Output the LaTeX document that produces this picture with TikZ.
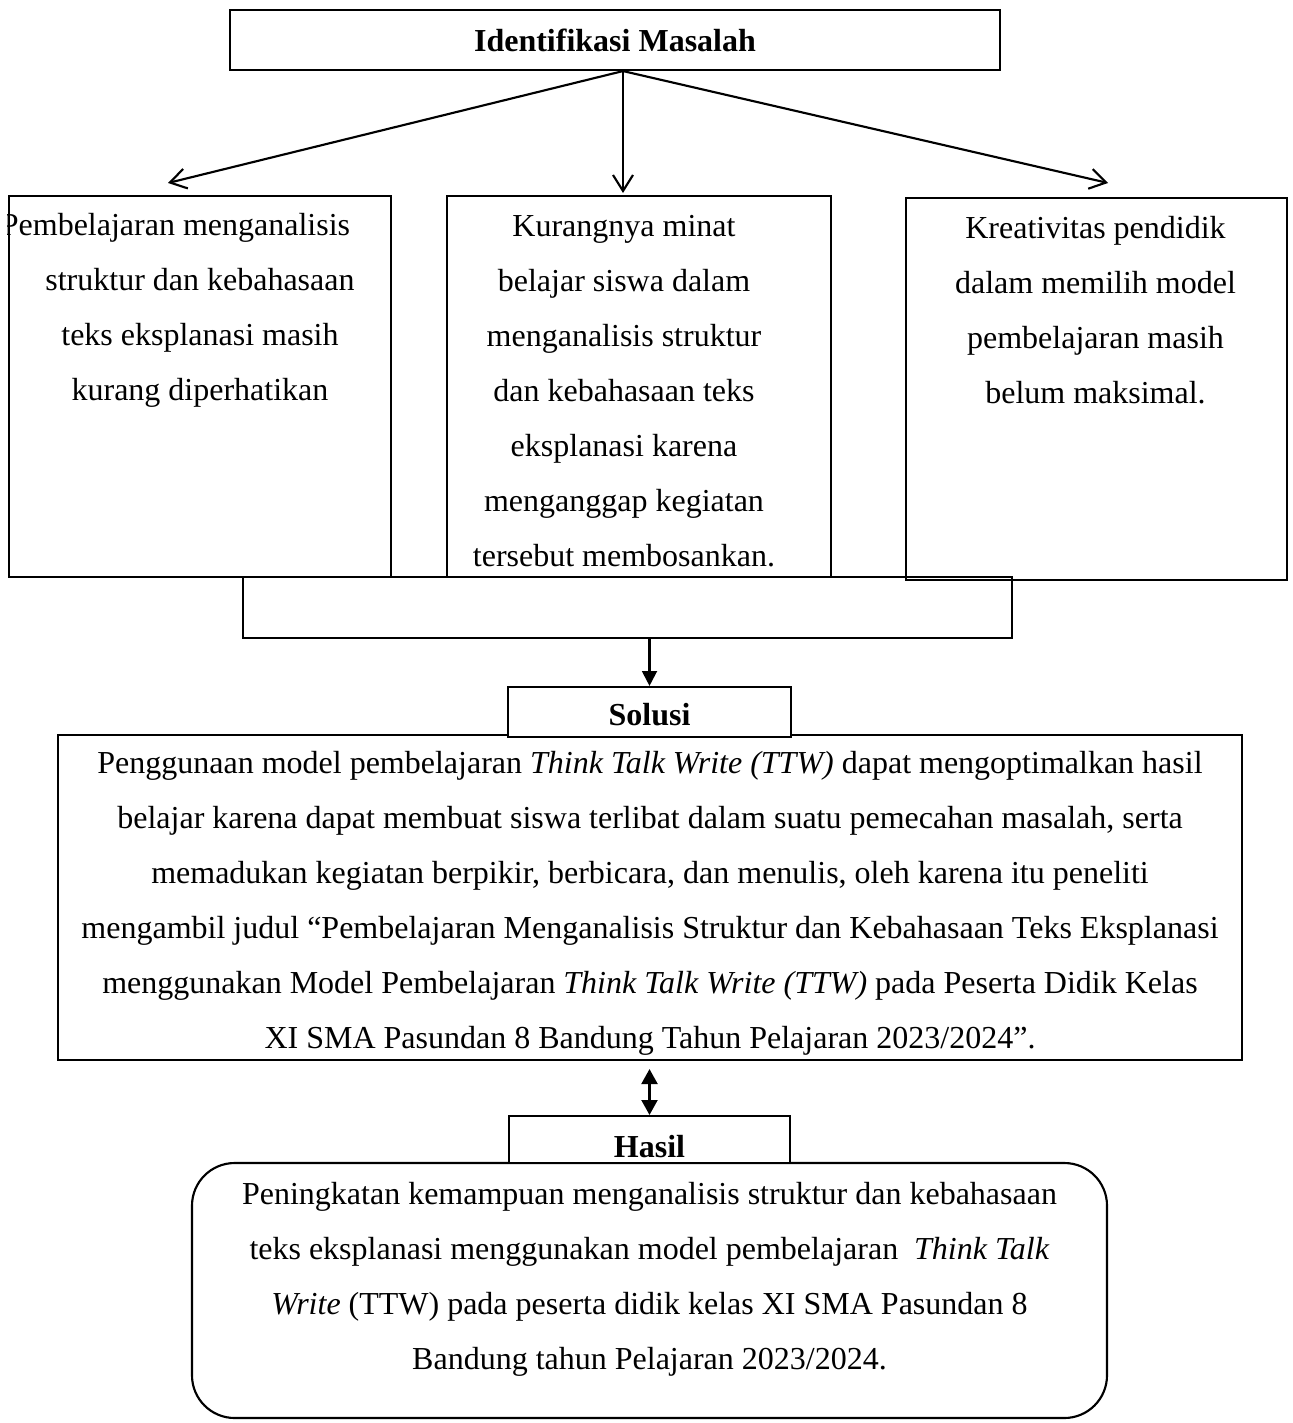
\documentclass[tikz,border=0pt]{standalone}
\usepackage{fontspec}
\setmainfont{Liberation Serif}
\usetikzlibrary{arrows.meta, positioning}

\begin{document}
\begin{tikzpicture}[x=0.375pt, y=-0.375pt,
    font=\fontsize{12}{20.6}\selectfont,
    kotak/.style={draw, line width=0.8pt, inner sep=0pt},
    ukuran/.style 2 args={minimum width=#1*0.375pt, minimum height=#2*0.375pt},
    teks/.style={align=center, inner sep=0pt, anchor=north},
    panah/.style={line width=0.8pt, -{Straight Barb[length=6pt, width=7.5pt]}},
    panahisi/.style={line width=0.8pt, -{Triangle[length=5.6pt, width=5.6pt]}},
    panahganda/.style={line width=0.8pt, {Triangle[length=5.6pt, width=6pt]}-{Triangle[length=5.6pt, width=6pt]}}]
    \useasboundingbox (0,0) rectangle (1292,1423);

    % Identifikasi masalah
    \node[kotak, ukuran={770}{60}, text height=15.75pt, text depth=6.75pt] (idm) at (615,40) {\textbf{Identifikasi Masalah}};

    % tiga masalah
    \node[kotak, ukuran={382}{381}] (kiri) at (200,386.5) {};
    \node[kotak, ukuran={384}{381}] (tengah) at (639,386.5) {};
    \node[kotak, ukuran={381}{382}] (kanan) at (1096.5,389) {};

    \begin{scope}
        \clip (kiri.south west) rectangle (kiri.north east);
        \node[teks] (tkiri) at (200,213) {Pembelajaran menganalisis\hbox to 18.4pt{}\\ struktur dan kebahasaan\\ teks eksplanasi masih\\ kurang diperhatikan};
    \end{scope}
    \node[teks] (ttengah) at (624,215) {Kurangnya minat\\ belajar siswa dalam\\ menganalisis struktur\\ dan kebahasaan teks\\ eksplanasi karena\\ menganggap kegiatan\\ tersebut membosankan.};
    \node[teks] (tkanan) at (1095.5,216) {Kreativitas pendidik\\ dalam memilih model\\ pembelajaran masih\\ belum maksimal.};

    \coordinate (ujung1) at (168,183);
    \coordinate (ujung2) at (623,193);
    \coordinate (ujung3) at (1108,183);
    \foreach \t in {ujung1, ujung2, ujung3}
        \draw[panah] ([xshift=3pt]idm.south) -- (\t);

    % penggabung
    \node[kotak, ukuran={769}{61}] (gabung) at (627.5,607.5) {};

    % Solusi
    \node[kotak, ukuran={1184}{325}] (isi) at (650,897.5) {};
    \node[kotak, fill=white, ukuran={283}{50}, text height=14.25pt, text depth=4.5pt] (solusi) at (649.5,712) {\textbf{Solusi}};
    \begin{scope}
        \clip (isi.south west) rectangle (isi.north east);
        \node[teks] (tisi) at (650,751) {Penggunaan model pembelajaran \textit{Think Talk Write (TTW)} dapat mengoptimalkan hasil\\
            belajar karena dapat membuat siswa terlibat dalam suatu pemecahan masalah, serta\\
            memadukan kegiatan berpikir, berbicara, dan menulis, oleh karena itu peneliti\\
            mengambil judul “Pembelajaran Menganalisis Struktur dan Kebahasaan Teks Eksplanasi\\
            menggunakan Model Pembelajaran \textit{Think Talk Write (TTW)} pada Peserta Didik Kelas\\
            XI SMA Pasundan 8 Bandung Tahun Pelajaran 2023/2024”.};
    \end{scope}
    \draw[panahisi] (solusi.north |- gabung.south) -- (solusi.north);

    % Hasil
    \node[kotak, rounded corners=16pt, ukuran={915}{255}] (hasilisi) at (649.5,1290.5) {};
    \node[kotak, fill=white, ukuran={281}{47}, text height=15.375pt, text depth=2.25pt] (hasil) at (649.5,1139.5) {\textbf{Hasil}};
    \node[teks] (thasil) at (649.5,1182) {Peningkatan kemampuan menganalisis struktur dan kebahasaan\\
        teks eksplanasi menggunakan model pembelajaran \ \textit{Think Talk}\\
        \textit{Write} (TTW) pada peserta didik kelas XI SMA Pasundan 8\\
        Bandung tahun Pelajaran 2023/2024.};
    \draw[panahganda, shorten <=3pt] (hasil.north |- isi.south) -- (hasil.north);
\end{tikzpicture}
\end{document}
